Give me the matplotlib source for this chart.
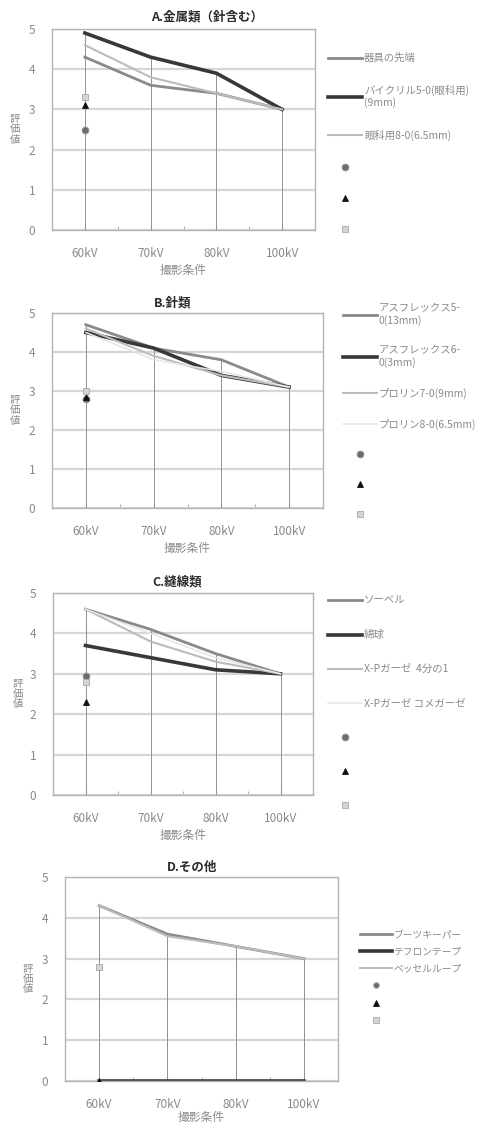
import numpy as np
import matplotlib
matplotlib.use("Agg")
import matplotlib.pyplot as plt

plt.rcParams['font.family'] = ['Noto Sans CJK JP', 'DejaVu Sans']

W, H = 495, 1124

# 撮影条件
kv_labels = ['60kV', '70kV', '80kV', '100kV']

# A. 金属類
a_names = ['器具の先端', 'バイクリル5-0(眼科用)\n(9mm)', '眼科用8-0(6.5mm)']
a_vals = [[4.3, 3.6, 3.4, 3.0],
          [4.9, 4.3, 3.9, 3.0],
          [4.6, 3.8, 3.4, 3.0]]
a_pts = [2.5, 3.1, 3.3]      # ●, ▲, ■ (60kVのみ)

# B. 針類
b_names = ['アスフレックス5-\n0(13mm)', 'アスフレックス6-\n0(3mm)',
           'プロリン7-0(9mm)', 'プロリン8-0(6.5mm)']
b_vals = [[4.7, 4.1, 3.8, 3.1],
          [4.5, 4.1, 3.4, 3.1],
          [4.6, 3.9, 3.4, 3.1],
          [4.5, 3.8, 3.5, 3.1]]
b_pts = [2.8, 2.85, 3.0]

# C. 縫線類
c_names = ['ソーベル', '綿球', 'X-Pガーゼ  4分の1', 'X-Pガーゼ コメガーゼ']
c_vals = [[4.6, 4.1, 3.5, 3.0],
          [3.7, 3.4, 3.1, 3.0],
          [4.6, 3.8, 3.3, 3.0],
          [4.6, 4.0, 3.4, 3.0]]
c_pts = [2.95, 2.3, 2.8]

# D. その他
d_names = ['ブーツキーパー', 'テフロンテープ', 'ベッセルループ']
d_vals = [[4.3, 3.6, 3.3, 3.0],
          [0.0, 0.0, 0.0, 0.0],
          [4.3, 3.55, 3.3, 3.0]]
d_pts = [2.8, 0.0, 2.8]

line_colors = ['#8a8a8a', '#383838', '#bcbcbc', '#e6e6e6']
line_widths = [2.0, 2.6, 1.5, 1.1]
pt_styles = [dict(marker='o', mfc='#6c6c6c', mec='#a0a0a0'),
             dict(marker='^', mfc='#111111', mec='#111111'),
             dict(marker='s', mfc='#d4d4d4', mec='#a8a8a8')]
txt_gray = '#8a8a8a'

fig = plt.figure(figsize=(W / 100, H / 100), dpi=100)


def panel(box, title, title_xy, ylab_x, names, vals, pts,
          leg_xy, leg_fs, leg_space, msize=5, xlab_pad=3):
    l, t, r, b = box
    ax = fig.add_axes([l / W, 1 - b / H, (r - l) / W, (b - t) / H])
    x = np.arange(len(kv_labels))
    vals = np.array(vals)

    handles = []
    # drop lines from the highest series down to the axis
    ax.vlines(x, 0, vals.max(axis=0), color='#909090', lw=0.7, zorder=1.5)
    for i, v in enumerate(vals):
        h, = ax.plot(x, v, color=line_colors[i], lw=line_widths[i],
                     solid_joinstyle='miter', zorder=2 + i * 0.1)
        handles.append(h)
    for p, st in zip(pts, pt_styles):
        h, = ax.plot(x[:1], [p], ls='none', ms=msize, mew=0.6,
                     zorder=4, **st)
        handles.append(h)

    ax.set_xlim(-0.5, len(x) - 0.5)
    ax.set_ylim(0, 5)
    ax.set_yticks(range(6))
    ax.yaxis.grid(True, color='#d6d6d6', lw=1.6)
    ax.set_axisbelow(True)
    for s in ax.spines.values():
        s.set_color('#b4b4b4')
        s.set_linewidth(1.0)

    ax.set_xticks(x, kv_labels)
    ax.set_xticks(x[:-1] + 0.5, minor=True)
    ax.tick_params(axis='x', which='both', direction='in', length=3,
                   color='#a0a0a0', pad=12, labelsize=8.5, labelcolor=txt_gray)
    ax.tick_params(axis='y', length=0, pad=12, labelsize=8.5,
                   labelcolor=txt_gray)

    ax.set_xlabel('撮影条件', fontsize=8.5, color=txt_gray, labelpad=xlab_pad)

    # 縦書きの軸ラベル
    fig.text(ylab_x / W, 1 - (t + b) / 2 / H, '評\n価\n値', rotation=0,
             fontsize=7.5, color=txt_gray, linespacing=1.05,
             ha='center', va='center')

    fig.text(title_xy[0] / W, 1 - title_xy[1] / H, title, ha='center',
             va='center', fontsize=9, fontweight='bold', color='#2a2a2a')

    labels = list(names) + [' '] * len(pts)
    fig.legend(handles, labels, loc='upper left',
               bbox_to_anchor=(leg_xy[0] / W, 1 - leg_xy[1] / H),
               frameon=False, borderpad=0, borderaxespad=0,
               handlelength=3.3, handletextpad=0.15, fontsize=leg_fs,
               labelspacing=leg_space, labelcolor=txt_gray)


panel((52, 29, 315, 230), 'A.金属類（針含む）', (207, 17), 15,
      a_names, a_vals, a_pts, (328, 53), 7.5, 2.05)
panel((52, 313, 323, 508), 'B.針類', (173, 303), 15,
      b_names, b_vals, b_pts, (343, 303), 7.5, 1.9)
panel((53, 593, 313, 795), 'C.縫線類', (177, 582), 18,
      c_names, c_vals, c_pts, (328, 596), 7.5, 2.3)
panel((65, 877, 338, 1081), 'D.その他', (192, 867), 28,
      d_names, d_vals, d_pts, (360, 929), 7, 0.75, msize=4, xlab_pad=0)

fig.savefig('out.png', dpi=100)
